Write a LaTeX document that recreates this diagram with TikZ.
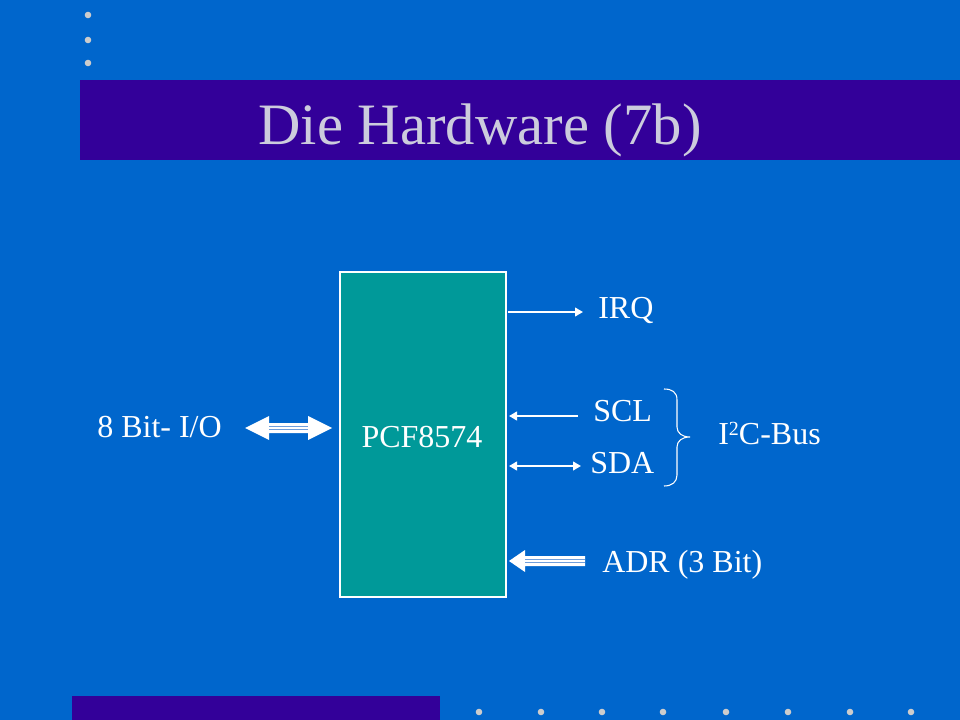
\documentclass[tikz,border=0pt]{standalone}
\usepackage{fontspec}
\setmainfont{Liberation Serif}
\usetikzlibrary{arrows.meta}
\definecolor{bg}{HTML}{0066CC}
\definecolor{bar}{HTML}{330099}
\definecolor{chipc}{HTML}{009999}
\definecolor{titlec}{HTML}{CCCCDD}
\definecolor{dotc}{HTML}{CCCCCC}
\definecolor{stripe}{HTML}{6E9EDC}
\tikzset{
  lbl/.style={text=white,font=\fontsize{24}{28}\selectfont,inner sep=0pt,anchor=base west},
  thinarrow/.style={draw=white,line width=2pt,-{Triangle[length=6pt,width=6.5pt]}},
  thinboth/.style={draw=white,line width=2pt,{Triangle[length=6pt,width=6.5pt]}-{Triangle[length=6pt,width=6.5pt]}},
  dotst/.style={fill=dotc,draw=none},
  stripeline/.style={draw=stripe,line width=0.9pt}
}
\begin{document}
\begin{tikzpicture}[x=0.75pt,y=-0.75pt]
\useasboundingbox (0,0) rectangle (960,720);
\fill[bg] (0,0) rectangle (960,720);
% title bar
\fill[bar] (80,80) rectangle (960,160);
\node[text=titlec,font=\fontsize{44}{50}\selectfont,inner sep=0pt,anchor=base] (title) at (480,145) {Die Hardware (7b)};
% bottom bar
\fill[bar] (72,696) rectangle (440,720);
% dots
\foreach \yy in {15,40,63} \fill[dotst] (88,\yy) circle (3.3);
\foreach \xx in {479,541,602,663,726,788,850,911} \fill[dotst] (\xx,712) circle (3.3);
% chip
\node[draw=white,line width=0.8pt,fill=chipc,minimum width=166*0.75pt,minimum height=325*0.75pt,inner sep=0pt] (chip) at (423,434.5) {};
\node[lbl,anchor=base] (chipname) at (422,447) {PCF8574};
% labels
\node[lbl] (irq) at (598,318) {IRQ};
\node[lbl] (scl) at (593,421) {SCL};
\node[lbl] (sda) at (590,473) {SDA};
\node[lbl] (adr) at (602,572) {ADR (3 Bit)};
\node[lbl] (i2c) at (718,444) {I\raisebox{6.5pt}{\fontsize{15}{15}\selectfont 2}C-Bus};
\node[lbl] (io) at (97,437) {8 Bit- I/O};
% thin arrows
\coordinate (irqA) at (508,312);
\coordinate (irqB) at (583,312);
\draw[thinarrow] (irqA) -- (irqB);
\coordinate (sclA) at (578,416);
\coordinate (sclB) at (509,416);
\draw[thinarrow] (sclA) -- (sclB);
\coordinate (sdaA) at (509,466);
\coordinate (sdaB) at (581,466);
\draw[thinboth] (sdaA) -- (sdaB);
% ADR triple arrow
\coordinate (adrTip) at (509,561);
\coordinate (adrEnd) at (585,561);
\fill[white] (adrTip) -- ++(16,-11) -- ++(0,6) -- (adrEnd |- 0,556) -- (adrEnd |- 0,566) -- (525,566) -- ++(0,6) -- cycle;
\draw[stripeline] (525,559.3) -- (585,559.3);
\draw[stripeline] (525,562.7) -- (585,562.7);
% 8 bit I/O double triple arrow
\coordinate (ioL) at (245,428);
\coordinate (ioR) at (332,428);
\fill[white] (ioL) -- (269,416) -- (269,423) -- (308,423) -- (308,416) -- (ioR) -- (308,440) -- (308,433) -- (269,433) -- (269,440) -- cycle;
\draw[stripeline] (269,426.3) -- (308,426.3);
\draw[stripeline] (269,429.7) -- (308,429.7);
% brace
\draw[white,line width=0.8pt] (664,389) .. controls (672,389) and (677,392) .. (677,400)
  -- (677,427) .. controls (677,433) and (682,437) .. (690,437)
  .. controls (682,437) and (677,441) .. (677,447)
  -- (677,475) .. controls (677,482) and (672,486) .. (664,486);
\end{tikzpicture}
\end{document}
